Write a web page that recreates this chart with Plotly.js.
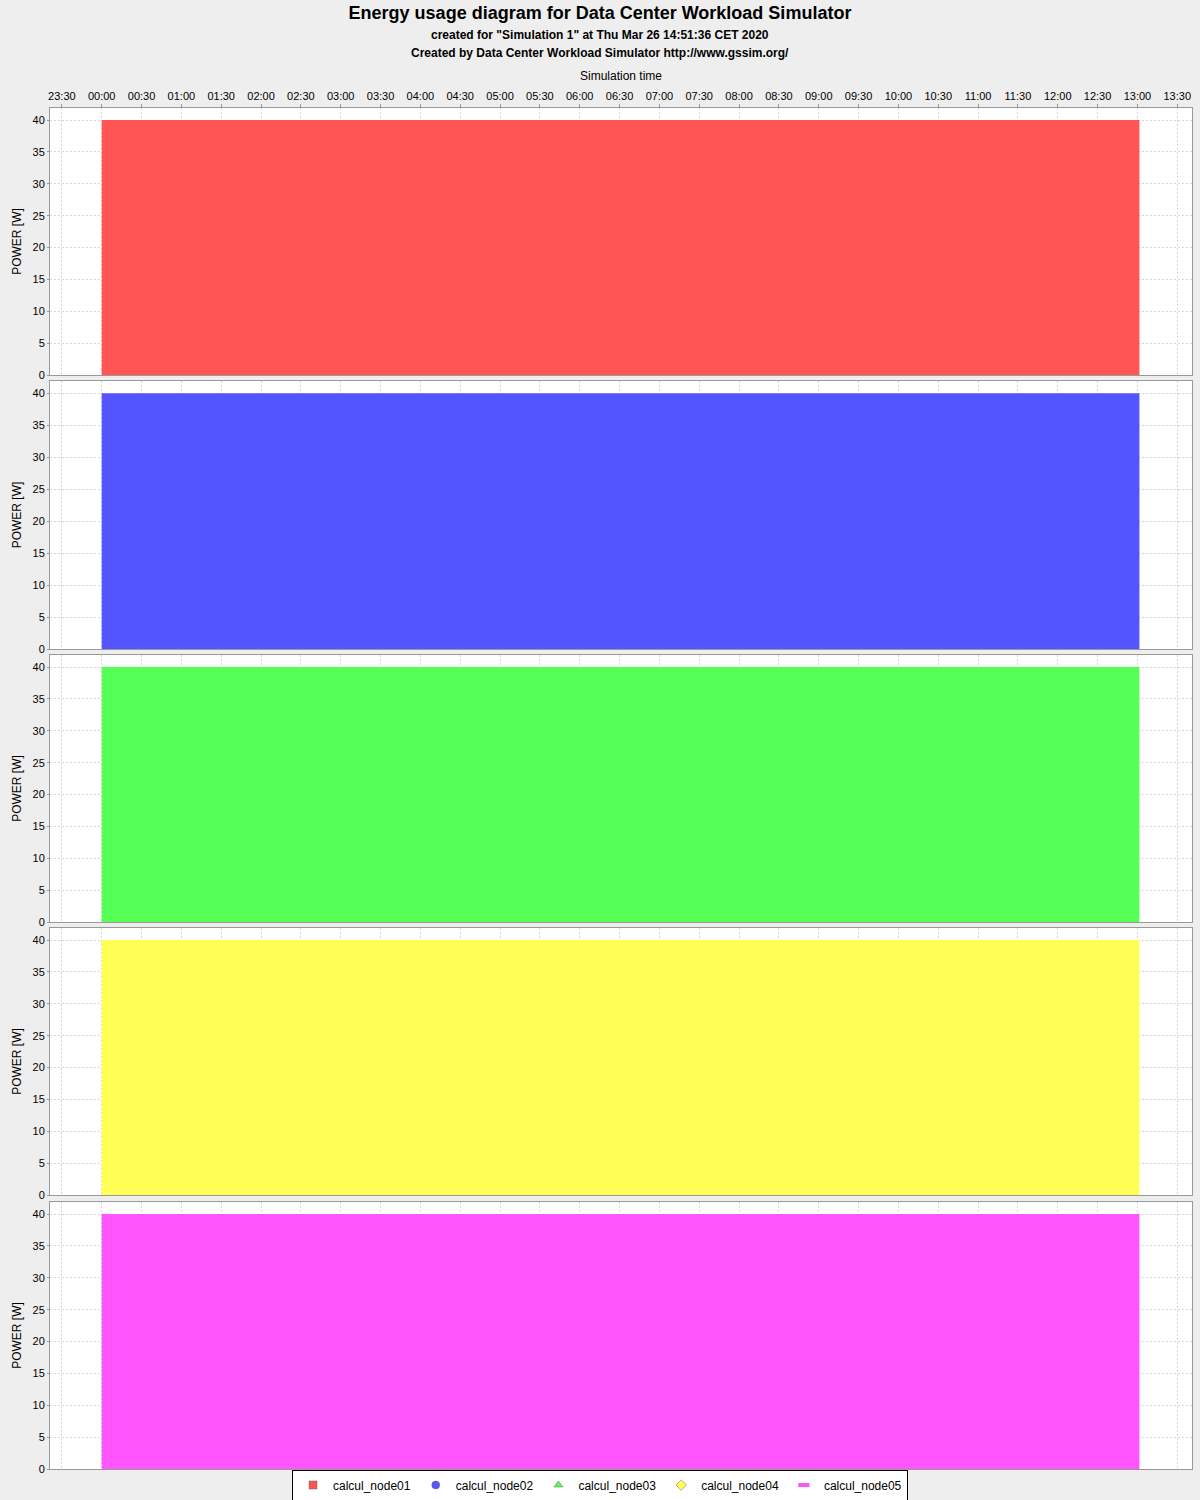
<!DOCTYPE html>
<html>
<head>
<meta charset="utf-8">
<script src="https://cdn.plot.ly/plotly-3.0.1.min.js"></script>
<style>html,body{margin:0;padding:0;background:#eeeeee;}</style>
</head>
<body>
<div id="chart" style="width:1200px;height:1500px;"></div>
<script>
// ---- data ----
const times = ['2020-03-26 00:00:00', '2020-03-26 13:01:30'];
const nodeNames = ['calcul_node01', 'calcul_node02', 'calcul_node03', 'calcul_node04', 'calcul_node05'];
const node01 = [40, 40];
const node02 = [40, 40];
const node03 = [40, 40];
const node04 = [40, 40];
const node05 = [40, 40];
const nodeValues = [node01, node02, node03, node04, node05];
const nodeColors = ['#FF5555', '#5555FF', '#55FF55', '#FFFF55', '#FF55FF'];
const legendSymbols = ['square', 'circle', 'triangle-up', 'diamond', 'line-ew'];
const xTickStart = '2020-03-25 23:30:00';
const xRange = ['2020-03-25 23:21:04', '2020-03-26 13:41:06'];

// ---- layout helpers ----
const W = 1200, Hh = 1500;
const mT = 108, mB = 31, mL = 50, mR = 8;
const plotW = W - mL - mR;
const plotH = Hh - mT - mB;
const bottomPx = Hh - mB;
const panels = [[108, 375], [381, 649], [655, 922], [928, 1195], [1202, 1469]];
const FONT = 'Liberation Sans, Arial, sans-serif';
const centerX = (W / 2 - mL) / plotW;

const traces = [];
const layout = {
  width: W, height: Hh,
  paper_bgcolor: '#eeeeee',
  plot_bgcolor: '#ffffff',
  margin: {l: mL, r: mR, t: mT, b: mB, pad: 0, autoexpand: false},
  font: {family: FONT, size: 11, color: '#000'},
  showlegend: true,
  title: {
    text: '<b>Energy usage diagram for Data Center Workload Simulator</b>',
    font: {family: FONT, size: 18, color: '#000'},
    x: 0.5, xanchor: 'center', xref: 'container',
    y: 1 - 13 / Hh, yanchor: 'middle', yref: 'container'
  },
  annotations: [
    {text: '<b>created for "Simulation 1" at Thu Mar 26 14:51:36 CET 2020</b>', xref: 'paper', yref: 'paper',
     x: centerX, y: (bottomPx - 35) / plotH, xanchor: 'center', yanchor: 'middle', showarrow: false,
     font: {family: FONT, size: 12, color: '#000'}},
    {text: '<b>Created by Data Center Workload Simulator http://www.gssim.org/</b>', xref: 'paper', yref: 'paper',
     x: centerX, y: (bottomPx - 53) / plotH, xanchor: 'center', yanchor: 'middle', showarrow: false,
     font: {family: FONT, size: 12, color: '#000'}}
  ],
  legend: {
    orientation: 'h', x: 0.5, xanchor: 'center', xref: 'container',
    y: 15 / Hh, yanchor: 'middle', yref: 'container',
    bgcolor: '#ffffff', bordercolor: '#000000', borderwidth: 1,
    font: {family: FONT, size: 12, color: '#000'},
    itemwidth: 30, tracegroupgap: 0,
    itemclick: false
  }
};

for (let i = 0; i < 5; i++) {
  const sfx = i === 0 ? '' : String(i + 1);
  const xa = 'x' + sfx, ya = 'y' + sfx;
  traces.push({
    type: 'scatter', mode: 'lines', x: times, y: nodeValues[i],
    xaxis: xa, yaxis: ya,
    line: {width: 0, shape: 'hv', color: nodeColors[i]},
    fill: 'tozeroy', fillcolor: nodeColors[i],
    showlegend: false, hoverinfo: 'skip'
  });
  const [top, bot] = panels[i];
  layout['xaxis' + sfx] = {
    type: 'date', range: xRange, anchor: ya,
    matches: i === 0 ? undefined : 'x',
    side: 'top',
    tick0: xTickStart, dtick: 1800000, tickformat: '%H:%M',
    showticklabels: i === 0,
    ticks: i === 0 ? 'outside' : '', ticklen: 3, tickcolor: '#999999',
    tickfont: {family: FONT, size: 11, color: '#000'},
    showgrid: true, gridcolor: '#d6d6d6', griddash: '2px,2px', gridwidth: 1,
    showline: true, linecolor: '#999999', linewidth: 1, mirror: true,
    zeroline: false, fixedrange: true,
    title: i === 0 ? {text: 'Simulation time', font: {family: FONT, size: 12, color: '#000'}, standoff: 6} : {text: ''}
  };
  layout['yaxis' + sfx] = {
    domain: [(bottomPx - bot) / plotH, (bottomPx - top) / plotH],
    anchor: xa, range: [0, 41.9],
    tick0: 0, dtick: 5,
    ticks: 'outside', ticklen: 2, tickcolor: '#999999',
    tickfont: {family: FONT, size: 11, color: '#000'},
    showgrid: true, gridcolor: '#d6d6d6', griddash: '2px,2px', gridwidth: 1,
    showline: true, linecolor: '#999999', linewidth: 1, mirror: true,
    zeroline: false, fixedrange: true,
    title: {text: 'POWER [W]', font: {family: FONT, size: 12, color: '#000'}, standoff: 8}
  };
}

for (let i = 0; i < 5; i++) {
  traces.push({
    type: 'scatter', mode: 'markers', x: [null], y: [null],
    name: nodeNames[i],
    marker: {symbol: legendSymbols[i], size: 8, color: nodeColors[i],
             line: {width: legendSymbols[i] === 'line-ew' ? 4 : 0.5, color: legendSymbols[i] === 'line-ew' ? nodeColors[i] : '#666666'}},
    showlegend: true, hoverinfo: 'skip'
  });
}

Plotly.newPlot('chart', traces, layout, {displayModeBar: false, staticPlot: true});
</script>
</body>
</html>
